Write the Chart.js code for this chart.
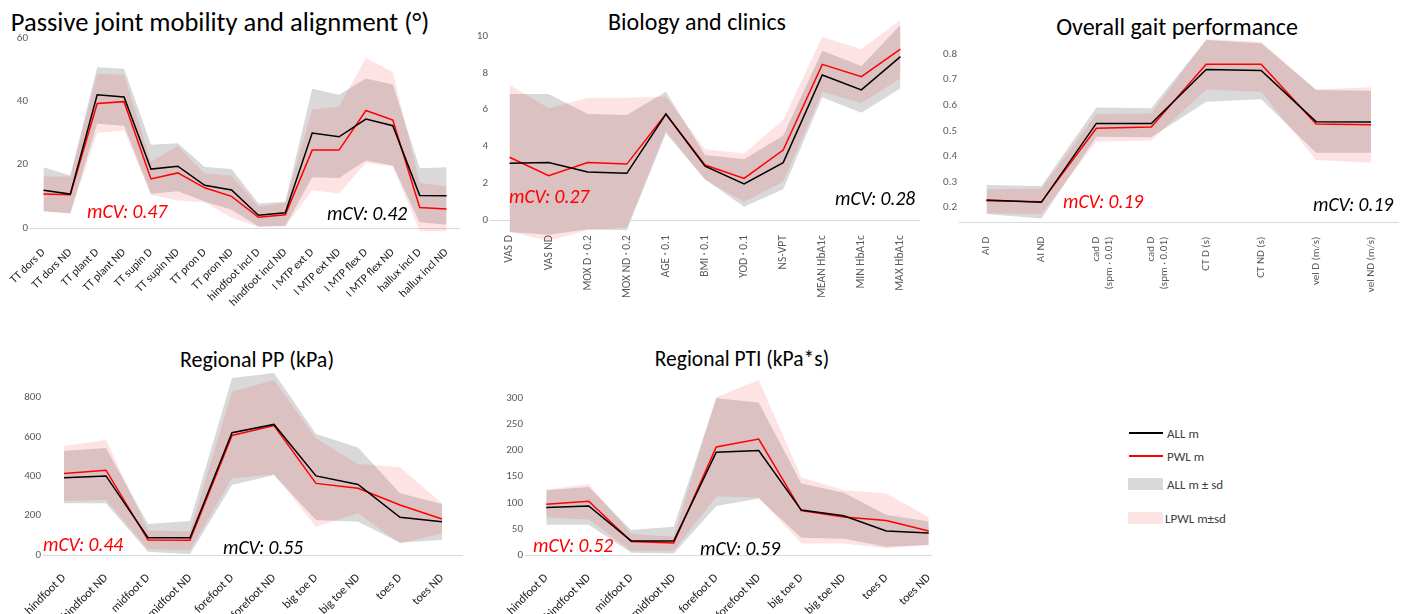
<!DOCTYPE html>
<html>
<head>
<meta charset="utf-8">
<script src="https://cdn.jsdelivr.net/npm/chart.js@4"></script>
<style>
  body { margin: 0; width: 1405px; height: 614px; position: relative; overflow: hidden; background: #fff;
         font-family: Carlito, Lato, sans-serif; }
  .box { position: absolute; overflow: hidden; }
  .title { position: absolute; transform: translate(-50%, -50%); line-height: 1; color: #000; white-space: nowrap; }
  .mcv { position: absolute; transform: translateY(-50%); font-size: 19.5px; line-height: 1; font-style: italic; white-space: nowrap; }
  .leg { position: absolute; transform: translateY(-50%); font-size: 13px; line-height: 1; color: #404040; white-space: nowrap; }
  .sw { position: absolute; }
</style>
</head>
<body>

<div class="title" style="left:220px;top:22px;font-size:26.5px">Passive joint mobility and alignment (°)</div>
<div class="title" style="left:697px;top:22px;font-size:24px">Biology and clinics</div>
<div class="title" style="left:1177px;top:27px;font-size:24px">Overall gait performance</div>
<div class="title" style="left:257px;top:360px;font-size:22px">Regional PP (kPa)</div>
<div class="title" style="left:742px;top:360px;font-size:21.5px">Regional PTI (kPa*s)</div>

<div class="sw" style="left:1129px;top:432px;width:34px;height:1.5px;background:#000"></div>
<div class="leg" style="left:1167px;top:433px">ALL m</div>
<div class="sw" style="left:1129px;top:455px;width:34px;height:1.5px;background:#ff0000"></div>
<div class="leg" style="left:1167px;top:456px">PWL m</div>
<div class="sw" style="left:1128px;top:478px;width:35px;height:12px;background:#d9d9d9"></div>
<div class="leg" style="left:1167px;top:484px">ALL m ± sd</div>
<div class="sw" style="left:1128px;top:512px;width:35px;height:12px;background:#fde4e4"></div>
<div class="leg" style="left:1165px;top:518px">LPWL m±sd</div>

<script>
// ---- data ----
var p1Labels = ['TT dors D', 'TT dors ND', 'TT plant D', 'TT plant ND', 'TT supin D', 'TT supin ND', 'TT pron D', 'TT pron ND',
  'hindfoot incl D', 'hindfoot incl ND', 'I MTP ext D', 'I MTP ext ND', 'I MTP flex D', 'I MTP flex ND', 'hallux incl D', 'hallux incl ND'];
var p1AllM  = [11.9, 10.7, 42.1, 41.4, 18.6, 19.5, 13.5, 12.0, 4.0, 4.8, 30.0, 28.8, 34.4, 32.3, 10.3, 10.2];
var p1PwlM  = [10.7, 10.5, 39.3, 39.9, 15.5, 17.4, 12.7, 10.0, 3.4, 4.2, 24.6, 24.6, 37.1, 34.1, 6.5, 6.0];
var p1AllUp = [19.2, 16.6, 50.8, 50.3, 26.3, 26.8, 19.3, 18.6, 7.7, 8.3, 44.0, 42.1, 47.2, 45.3, 18.9, 19.2];
var p1AllLo = [5.3, 4.6, 32.9, 32.3, 10.8, 11.6, 8.4, 5.8, 0.5, 0.7, 16.0, 15.8, 21.3, 19.7, 1.8, 1.0];
var p1PwlUp = [16.3, 16.3, 48.7, 48.4, 21.0, 25.8, 17.2, 16.6, 6.8, 7.9, 37.4, 38.4, 53.7, 49.2, 14.2, 13.2];
var p1PwlLo = [5.3, 4.7, 30.0, 30.8, 10.5, 8.7, 8.1, 3.2, 0.3, 0.5, 11.9, 10.9, 20.5, 19.5, -1.0, -1.0];
var p1YTicks = [0, 20, 40, 60];

var p2Labels = ['VAS D', 'VAS ND', 'MOX D · 0.2', 'MOX ND · 0.2', 'AGE · 0.1', 'BMI · 0.1', 'YOD · 0.1', 'NS-VPT',
  'MEAN HbA1c', 'MIN HbA1c', 'MAX HbA1c'];
var p2AllM  = [3.08, 3.12, 2.61, 2.54, 5.76, 2.93, 1.96, 3.12, 7.88, 7.07, 8.88];
var p2PwlM  = [3.41, 2.41, 3.13, 3.04, 5.76, 2.99, 2.26, 3.80, 8.46, 7.79, 9.29];
var p2AllUp = [6.85, 6.85, 5.76, 5.71, 6.97, 3.53, 3.30, 4.58, 9.20, 8.37, 10.6];
var p2AllLo = [-0.65, -0.8, -0.5, -0.55, 4.71, 2.21, 0.72, 1.67, 6.67, 5.83, 7.16];
var p2PwlUp = [7.34, 6.07, 6.65, 6.65, 6.70, 3.84, 3.62, 5.43, 9.96, 9.28, 10.87];
var p2PwlLo = [-0.65, -1.12, -0.55, -0.4, 4.85, 2.17, 1.0, 2.08, 6.97, 6.34, 7.7];
var p2YTicks = [0, 2, 4, 6, 8, 10];

var p3Labels = ['AI D', 'AI ND', ['cad D', '(spm · 0.01)'], ['cad D', '(spm · 0.01)'], 'CT D (s)', 'CT ND (s)', 'vel D (m/s)', 'vel ND (m/s)'];
var p3AllM  = [0.230, 0.221, 0.529, 0.529, 0.740, 0.736, 0.536, 0.535];
var p3PwlM  = [0.227, 0.223, 0.510, 0.515, 0.760, 0.760, 0.527, 0.524];
var p3AllUp = [0.289, 0.285, 0.591, 0.588, 0.855, 0.842, 0.660, 0.657];
var p3AllLo = [0.175, 0.158, 0.477, 0.475, 0.614, 0.623, 0.415, 0.415];
var p3PwlUp = [0.272, 0.274, 0.566, 0.568, 0.858, 0.848, 0.662, 0.670];
var p3PwlLo = [0.178, 0.175, 0.458, 0.462, 0.662, 0.653, 0.386, 0.376];
var p3YTicks = [0.2, 0.3, 0.4, 0.5, 0.6, 0.7, 0.8];

var footLabels = ['hindfoot D', 'hindfoot ND', 'midfoot D', 'midfoot ND', 'forefoot D', 'forefoot ND', 'big toe D', 'big toe ND', 'toes D', 'toes ND'];
var p4AllM  = [393, 402, 88, 88, 622, 664, 402, 359, 192, 169];
var p4PwlM  = [415, 431, 76, 75, 608, 658, 364, 339, 254, 183];
var p4AllUp = [529, 544, 158, 173, 900, 925, 615, 546, 314, 259];
var p4AllLo = [263, 263, 17, 5, 356, 407, 178, 169, 64, 76];
var p4PwlUp = [554, 585, 124, 119, 830, 890, 593, 463, 446, 263];
var p4PwlLo = [275, 280, 29, 25, 390, 410, 144, 212, 59, 110];
var p4YTicks = [0, 200, 400, 600, 800];

var p5AllM  = [91, 94, 27, 27, 197, 200, 86, 75, 46, 42];
var p5PwlM  = [97, 103, 26, 23, 207, 222, 85, 73, 66, 46];
var p5AllUp = [124, 130, 48, 54, 300, 292, 137, 119, 77, 64];
var p5AllLo = [58, 58, 4.5, 3, 94, 108, 33, 31, 16, 19];
var p5PwlUp = [125, 136, 40, 35, 302, 335, 149, 124, 118, 73];
var p5PwlLo = [72, 68, 8, 8, 112, 110, 22, 22, 13, 19];
var p5YTicks = [0, 50, 100, 150, 200, 250, 300];

var mcvText = [
  ['mCV: 0.47', 'mCV: 0.42'], ['mCV: 0.27', 'mCV: 0.28'], ['mCV: 0.19', 'mCV: 0.19'],
  ['mCV: 0.44', 'mCV: 0.55'], ['mCV: 0.52', 'mCV: 0.59']
];

var FONT = 'Carlito, Lato, sans-serif';
var GRAY = '#d9d9d9';
var PINK = 'rgba(235,0,0,0.11)';

function makePanel(p) {
  var wrap = document.createElement('div');
  wrap.className = 'box';
  wrap.style.left = p.L + 'px';
  wrap.style.top = p.T + 'px';
  wrap.style.width = (p.clipW || p.W) + 'px';
  wrap.style.height = p.H + 'px';
  var cv = document.createElement('canvas');
  cv.width = p.W;
  cv.height = p.H;
  wrap.appendChild(cv);
  document.body.appendChild(wrap);

  var band = { borderWidth: 0, pointRadius: 0, tension: 0 };
  new Chart(cv, {
    type: 'line',
    data: {
      labels: p.labels,
      datasets: [
        { label: 'ALL m', data: p.allM, borderColor: '#000', borderWidth: 1.5, pointRadius: 0, fill: false },
        { label: 'PWL m', data: p.pwlM, borderColor: '#ff0000', borderWidth: 1.5, pointRadius: 0, fill: false },
        Object.assign({ label: 'LPWL m±sd', data: p.pwlUp, backgroundColor: PINK, fill: '+1' }, band),
        Object.assign({ label: 'pwl lo', data: p.pwlLo, fill: false }, band),
        Object.assign({ label: 'ALL m ± sd', data: p.allUp, backgroundColor: GRAY, fill: '+1' }, band),
        Object.assign({ label: 'all lo', data: p.allLo, fill: false }, band)
      ]
    },
    options: {
      responsive: false,
      animation: false,
      devicePixelRatio: 1,
      layout: { padding: { left: 0, top: p.pt, right: p.pr, bottom: 0 } },
      plugins: { legend: { display: false }, tooltip: { enabled: false }, title: { display: false } },
      scales: {
        x: {
          offset: true,
          z: 1,
          grid: { display: false },
          border: { display: !!p.xBorder, color: GRAY },
          ticks: { autoSkip: false, maxRotation: p.rot, minRotation: p.rot, padding: p.xPad,
                   color: p.xColor, font: { size: p.xFont, family: FONT } },
          afterFit: function (s) {
            s.height = p.xh;
            // let labels start above the scale box (no clipping to it)
            s._computeLabelArea = function () { return undefined; };
          }
        },
        y: {
          min: p.yMin,
          max: p.yMax,
          border: { display: false },
          grid: { drawTicks: false, color: function (c) { return c.tick && c.tick.value === 0 ? GRAY : 'rgba(0,0,0,0)'; } },
          ticks: { padding: 2, color: '#595959', font: { size: 11, family: FONT } },
          afterBuildTicks: function (s) { s.ticks = p.yTicks.map(function (v) { return { value: v }; }); },
          afterFit: function (s) { s.width = p.yw; }
        }
      }
    }
  });

  // mCV notes
  p.notes.forEach(function (n, i) {
    var d = document.createElement('div');
    d.className = 'mcv';
    d.textContent = n.text;
    d.style.left = n.x + 'px';
    d.style.top = n.y + 'px';
    d.style.color = i === 0 ? '#ff0000' : '#000';
    document.body.appendChild(d);
  });
}

makePanel({ L: -10, T: 0, W: 480, H: 310, yw: 40, xh: 78.2, pt: 38, pr: 10,
  labels: p1Labels, allM: p1AllM, pwlM: p1PwlM, allUp: p1AllUp, allLo: p1AllLo, pwlUp: p1PwlUp, pwlLo: p1PwlLo,
  yMin: -1.2, yMax: 60, yTicks: p1YTicks, rot: 45, xFont: 11.5, xColor: '#1a1a1a', xPad: 6,
  notes: [{ text: mcvText[0][0], x: 87, y: 212 }, { text: mcvText[0][1], x: 327, y: 214 }] });

makePanel({ L: 460, T: 0, W: 470, H: 310, yw: 30, xh: 68.8, pt: 17.6, pr: 10,
  labels: p2Labels, allM: p2AllM, pwlM: p2PwlM, allUp: p2AllUp, allLo: p2AllLo, pwlUp: p2PwlUp, pwlLo: p2PwlLo,
  yMin: -1.15, yMax: 11, yTicks: p2YTicks, rot: 90, xFont: 11.5, xColor: '#595959', xPad: -14,
  notes: [{ text: mcvText[1][0], x: 509, y: 197 }, { text: mcvText[1][1], x: 835, y: 199 }] });

makePanel({ L: 930, T: 0, W: 475, H: 310, yw: 29, xh: 87.3, pt: 36.1, pr: 6.5, xBorder: true,
  labels: p3Labels, allM: p3AllM, pwlM: p3PwlM, allUp: p3AllUp, allLo: p3AllLo, pwlUp: p3PwlUp, pwlLo: p3PwlLo,
  yMin: 0.1415, yMax: 0.87, yTicks: p3YTicks, rot: 90, xFont: 11, xColor: '#595959', xPad: 6,
  notes: [{ text: mcvText[2][0], x: 1063, y: 202 }, { text: mcvText[2][1], x: 1313, y: 205 }] });

makePanel({ L: 0, T: 340, W: 480, H: 274, yw: 43, xh: 59, pt: 32.1, pr: 17,
  labels: footLabels, allM: p4AllM, pwlM: p4PwlM, allUp: p4AllUp, allLo: p4AllLo, pwlUp: p4PwlUp, pwlLo: p4PwlLo,
  yMin: 0, yMax: 930, yTicks: p4YTicks, rot: 45, xFont: 12, xColor: '#1a1a1a', xPad: 8,
  notes: [{ text: mcvText[3][0], x: 43, y: 545 }, { text: mcvText[3][1], x: 223, y: 548 }] });

makePanel({ L: 470, T: 340, W: 490, H: 274, yw: 55, xh: 59, pt: 38.5, pr: 10, clipW: 462,
  labels: footLabels, allM: p5AllM, pwlM: p5PwlM, allUp: p5AllUp, allLo: p5AllLo, pwlUp: p5PwlUp, pwlLo: p5PwlLo,
  yMin: 0, yMax: 338, yTicks: p5YTicks, rot: 45, xFont: 12, xColor: '#1a1a1a', xPad: 8,
  notes: [{ text: mcvText[4][0], x: 533, y: 546 }, { text: mcvText[4][1], x: 700, y: 549 }] });
</script>
</body>
</html>
